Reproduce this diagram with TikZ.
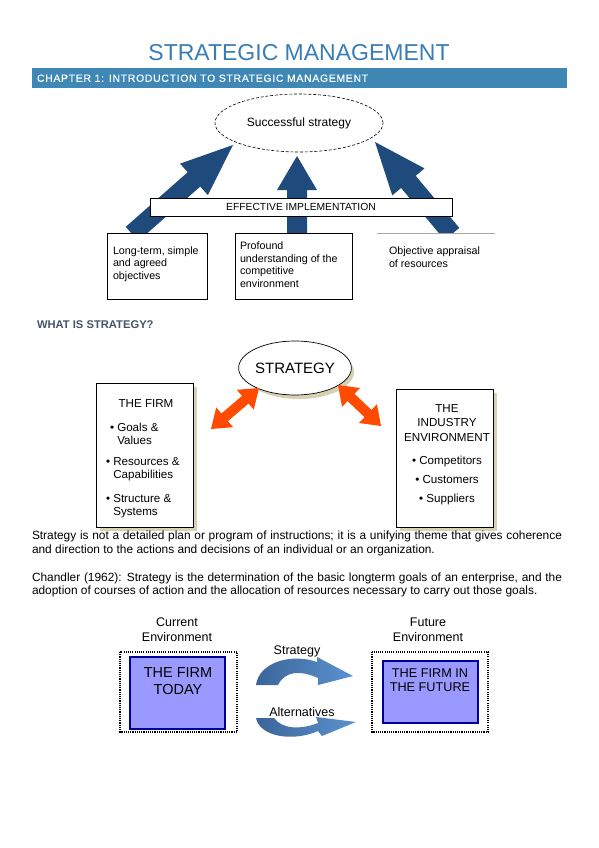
\documentclass[tikz,border=0pt]{standalone}
\usepackage{fontspec}
\setmainfont{Liberation Sans}
\usetikzlibrary{calc,shapes.geometric}
\definecolor{titleblue}{HTML}{3A7DB5}
\definecolor{barblue}{HTML}{3F88B6}
\definecolor{arrowblue}{HTML}{1F4A7C}
\definecolor{headgray}{HTML}{44546A}
\definecolor{shadowbeige}{HTML}{D8D0B2}
\definecolor{arrorange}{HTML}{FF4A00}
\definecolor{firmfill}{HTML}{9999FF}
\definecolor{firmline}{HTML}{000099}
\definecolor{curvedark}{HTML}{3B6598}
\definecolor{curvelight}{HTML}{5C92D0}
% single block arrow: tail, tip, shaft half width, head half width, head length, fill options
\newcommand\blockarrow[6]{%
  \coordinate (bah) at ($(#2)!#5!(#1)$);
  \fill[#6] ($(#1)!#3!90:(#2)$) -- ($(bah)!#3!90:(#2)$) -- ($(bah)!#4!90:(#2)$) -- (#2)
    -- ($(bah)!#4!-90:(#2)$) -- ($(bah)!#3!-90:(#2)$) -- ($(#1)!#3!-90:(#2)$) -- cycle;}
% double block arrow: tip A, tip B, shaft half width, head half width, head length, fill options
\newcommand\dblarrow[6]{%
  \coordinate (dha) at ($(#1)!#5!(#2)$);
  \coordinate (dhb) at ($(#2)!#5!(#1)$);
  \fill[#6] (#1) -- ($(dha)!#4!90:(#2)$) -- ($(dha)!#3!90:(#2)$) -- ($(dhb)!#3!90:(#2)$)
    -- ($(dhb)!#4!90:(#2)$) -- (#2) -- ($(dhb)!#4!-90:(#2)$) -- ($(dhb)!#3!-90:(#2)$)
    -- ($(dha)!#3!-90:(#2)$) -- ($(dha)!#4!-90:(#2)$) -- cycle;}
\tikzset{
  txt/.style={inner sep=0pt, outer sep=0pt},
  boxtext/.style={txt, anchor=base west, font=\fontsize{10.7}{12.7}\selectfont},
  firmtext/.style={txt, font=\fontsize{11.6}{13}\selectfont},
  envtext/.style={txt, anchor=base, font=\fontsize{12.5}{15}\selectfont},
  paratext/.style={txt, anchor=base west, font=\fontsize{11.9}{14}\selectfont},
  plainbox/.style={draw=black, line width=0.7pt, fill=white},
  shadowbox/.style={fill=shadowbeige},
  dotbox/.style={draw=black, line width=1.1pt, dash pattern=on 1.1pt off 1.1pt},
  firmbox/.style={draw=firmline, line width=2.4pt, fill=firmfill},
}
\begin{document}
\begin{tikzpicture}[x=1pt,y=-1pt]
\useasboundingbox (0,0) rectangle (599,848);
\fill[white] (0,0) rectangle (599,848);

% ---------- header ----------
\node[txt, anchor=base, text=titleblue, font=\fontsize{23}{27}\selectfont] (title) at (299,60.5) {STRATEGIC MANAGEMENT};
\fill[barblue] (32,68) rectangle (567,88);
\node[txt, anchor=base west, text=white, font=\fontsize{10.4}{12}\selectfont\addfontfeatures{LetterSpace=7,FakeBold=0.4}] (chap) at (37,81.8) {CHAPTER 1: INTRODUCTION TO STRATEGIC MANAGEMENT};

% ---------- figure 1 ----------
\coordinate (ltail) at (132,234);
\coordinate (ltip) at (233,145);
\coordinate (mtail) at (297,240);
\coordinate (mtip) at (297,156);
\coordinate (rtail) at (452,234);
\coordinate (rtip) at (375,142);
\blockarrow{ltail}{ltip}{9.5pt}{21pt}{52pt}{arrowblue}
\blockarrow{mtail}{mtip}{10pt}{20pt}{34pt}{arrowblue}
\blockarrow{rtail}{rtip}{9.5pt}{21pt}{52pt}{arrowblue}

\node[ellipse, draw=black, line width=0.6pt, dash pattern=on 3pt off 1.8pt, fill=white,
      minimum width=168pt, minimum height=58pt, inner sep=0pt,
      font=\fontsize{12}{14}\selectfont] (succ) at (299,123) {Successful strategy};

\draw[plainbox] (150,198) rectangle (452,216);
\node[txt, anchor=base, font=\fontsize{10.3}{12}\selectfont] (effimp) at (301,210.7) {EFFECTIVE IMPLEMENTATION};

\draw[plainbox] (107,233) rectangle (207,299);
\draw[plainbox] (235,233) rectangle (352,299);
\fill[white] (377,233) rectangle (495,299);
\draw[gray!70, line width=0.8pt] (377,233) -- (495,233);

\node[boxtext] (b1a) at (113,254) {Long-term, simple};
\node[boxtext] (b1b) at (113,266.7) {and agreed};
\node[boxtext] (b1c) at (113,279.4) {objectives};

\node[boxtext] (b2a) at (240,249.5) {Profound};
\node[boxtext] (b2b) at (240,262.2) {understanding of the};
\node[boxtext] (b2c) at (240,274.9) {competitive};
\node[boxtext] (b2d) at (240,287.6) {environment};

\node[boxtext] (b3a) at (389,254.5) {Objective appraisal};
\node[boxtext] (b3b) at (389,267.2) {of resources};

% ---------- figure 2 ----------
\node[txt, anchor=base west, text=headgray, font=\fontsize{11.2}{13}\selectfont\bfseries] (what) at (37,328) {WHAT IS STRATEGY?};

\fill[shadowbeige] (299,372) ellipse [x radius=55, y radius=27];
\node[ellipse, draw=black, line width=0.7pt, fill=white, minimum width=110pt, minimum height=54pt,
      inner sep=0pt, font=\fontsize{15}{17}\selectfont] (strat) at (295,368) {STRATEGY};

\fill[shadowbox] (100,387) rectangle (197,531);
\draw[plainbox] (96,383) rectangle (193,527);
\fill[shadowbox] (400,393) rectangle (497,531);
\draw[plainbox] (396,389) rectangle (493,527);

\node[firmtext, anchor=base] (firm) at (146,407) {THE FIRM};
\node[firmtext, anchor=base west] (g1) at (110,431) {• Goals \&};
\node[firmtext, anchor=base west] (g2) at (110,444) {\phantom{• }Values};
\node[firmtext, anchor=base west] (r1) at (106,465) {• Resources \&};
\node[firmtext, anchor=base west] (r2) at (106,478) {\phantom{• }Capabilities};
\node[firmtext, anchor=base west] (s1) at (106,502) {• Structure \&};
\node[firmtext, anchor=base west] (s2) at (106,515) {\phantom{• }Systems};

\node[firmtext, anchor=base] (ind1) at (447,412) {THE};
\node[firmtext, anchor=base] (ind2) at (447,426.5) {INDUSTRY};
\node[firmtext, anchor=base] (ind3) at (447,441) {ENVIRONMENT};
\node[firmtext, anchor=base] (ind4) at (447,464) {• Competitors};
\node[firmtext, anchor=base] (ind5) at (447,483) {• Customers};
\node[firmtext, anchor=base] (ind6) at (447,502) {• Suppliers};

\coordinate (ola) at (211,429);
\coordinate (olb) at (259,388);
\coordinate (ora) at (338,385);
\coordinate (orb) at (381,426);
\dblarrow{ola}{olb}{5pt}{13pt}{18pt}{arrorange}
\dblarrow{ora}{orb}{5pt}{13pt}{18pt}{arrorange}

% ---------- paragraphs ----------
\node[paratext] (p1a) at (32,539) {\makebox[530pt][s]{Strategy is not a detailed plan or program of instructions; it is a unifying theme that gives coherence}};
\node[paratext] (p1b) at (32,553) {and direction to the actions and decisions of an individual or an organization.};
\node[paratext] (p2a) at (32,581) {\makebox[530pt][s]{Chandler (1962): Strategy is the determination of the basic longterm goals of an enterprise, and the}};
\node[paratext] (p2b) at (32,594.5) {adoption of courses of action and the allocation of resources necessary to carry out those goals.};

% ---------- figure 3 ----------
\node[envtext] (cur1) at (177,626.5) {Current};
\node[envtext] (cur2) at (177,641) {Environment};
\node[envtext] (fut1) at (428,626.5) {Future};
\node[envtext] (fut2) at (428,641) {Environment};

\draw[dotbox] (120,652) rectangle (237,732);
\draw[firmbox] (130,657) rectangle (225,729);
\node[txt, anchor=base, font=\fontsize{14.5}{17}\selectfont] (today1) at (178,677) {THE FIRM};
\node[txt, anchor=base, font=\fontsize{14.5}{17}\selectfont] (today2) at (178,694) {TODAY};

\draw[dotbox] (372,652) rectangle (488,732);
\draw[firmbox] (383,661) rectangle (478,723);
\node[txt, anchor=base, font=\fontsize{12.7}{15}\selectfont] (fut3) at (430,677.5) {THE FIRM IN};
\node[txt, anchor=base, font=\fontsize{12.7}{15}\selectfont] (fut4) at (430,691.5) {THE FUTURE};

\node[envtext] (stratlbl) at (297,654) {Strategy};
\node[envtext] (altlbl) at (302,716) {Alternatives};

\shade[left color=curvedark, right color=curvelight]
  (256,685) .. controls (259,662) and (292,653) .. (317,662) -- (317,657) -- (353,676)
  -- (318,685) -- (318,678) .. controls (300,670) and (285,671) .. (278,685) -- cycle;
\shade[left color=curvedark, right color=curvelight]
  (256,718) .. controls (260,737) and (293,742) .. (318,731) -- (322,736) -- (356,722)
  -- (316,717) -- (318,723) .. controls (300,730) and (282,729) .. (274,718) -- cycle;
\end{tikzpicture}
\end{document}
